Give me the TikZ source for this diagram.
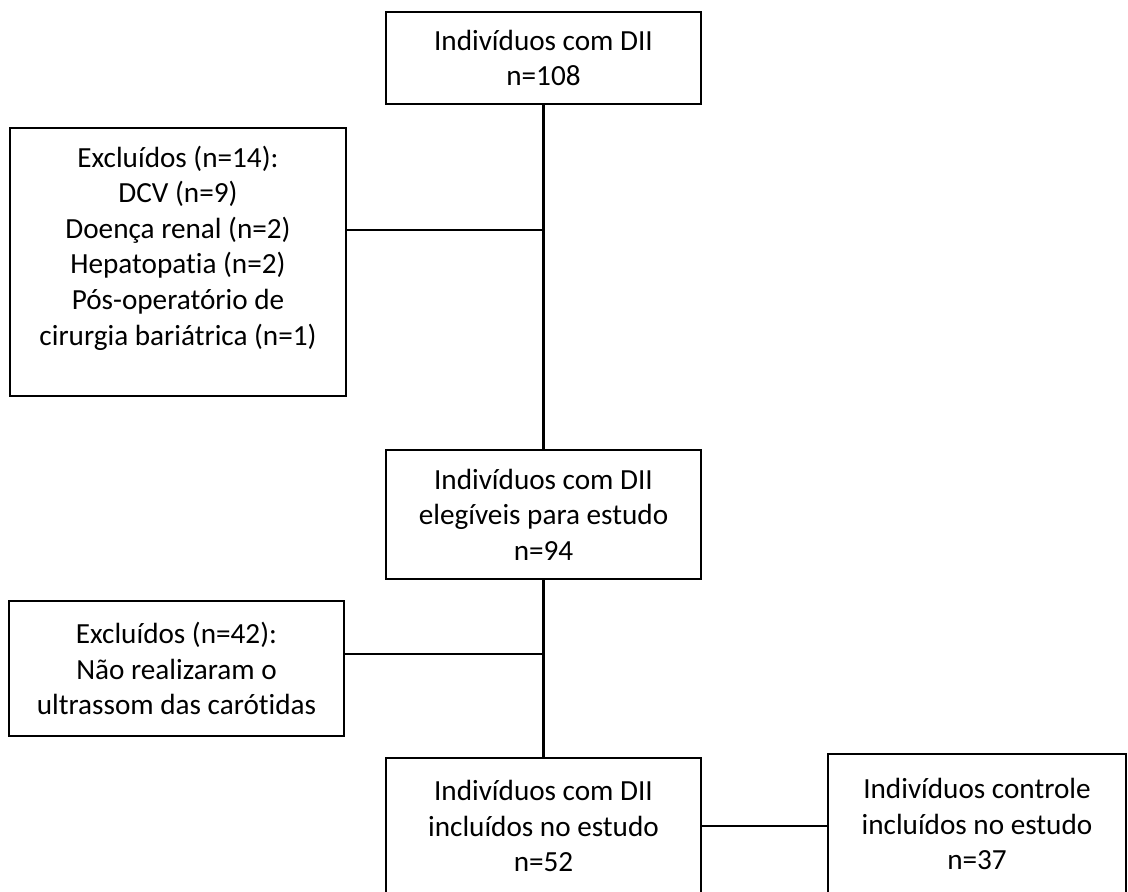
\documentclass[tikz,border=0pt]{standalone}
\usepackage{fontspec}
\setmainfont{Carlito}[Ligatures=NoCommon]
\usepackage{tikz}

\begin{document}
\begin{tikzpicture}[x=0.5pt, y=-0.5pt,
    every node/.style={font=\fontsize{14.6}{17.8}\selectfont},
    caixa/.style={draw, line width=1.2pt, align=center, inner sep=0pt},
    texto/.style={align=center, inner sep=0pt},
    ligacao/.style={line width=1.2pt}]
    \useasboundingbox (0,0) rectangle (1128,892);
    % caixas do fluxograma
    \node[caixa, minimum width=157.5pt, minimum height=46pt] (total) at (543.5,58)
        {Indivíduos com DII\\n=108};
    \node[caixa, minimum width=168pt, minimum height=134pt] (excl1) at (178,262) {};
    \node[texto] (excl1txt) at (178,248)
        {Excluídos (n=14):\\DCV (n=9)\\Doença renal (n=2)\\Hepatopatia (n=2)\\Pós-operatório de\\cirurgia bariátrica (n=1)};
    \node[caixa, minimum width=157.5pt, minimum height=64.5pt] (eleg) at (543.5,514.5)
        {Indivíduos com DII\\elegíveis para estudo\\n=94};
    \node[caixa, minimum width=167.5pt, minimum height=67.5pt] (excl2) at (176.5,668.5)
        {Excluídos (n=42):\\Não realizaram o\\ultrassom das carótidas};
    \node[caixa, minimum width=157.5pt, minimum height=68pt] (incl) at (543.5,826)
        {Indivíduos com DII\\incluídos no estudo\\n=52};
    \node[caixa, minimum width=149pt, minimum height=70pt] (ctrl) at (977,824)
        {Indivíduos controle\\incluídos no estudo\\n=37};
    % ligacoes
    \coordinate (j1) at (543.5,230);
    \coordinate (j2) at (543.5,654);
    \draw[ligacao] (total.south) -- (eleg.north);
    \draw[ligacao] (eleg.south) -- (incl.north);
    \draw[ligacao] (j1 -| excl1.east) -- (j1);
    \draw[ligacao] (j2 -| excl2.east) -- (j2);
    \draw[ligacao] (incl.east) -- (ctrl.west |- incl.east);
\end{tikzpicture}
\end{document}
